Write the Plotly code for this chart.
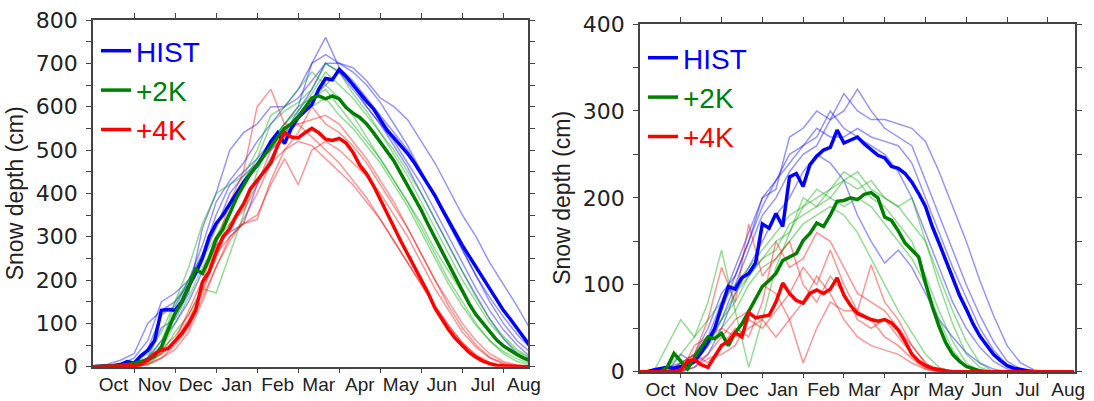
import plotly.graph_objects as go

# ---------------- data ----------------
MONTHS = ["Oct", "Nov", "Dec", "Jan", "Feb", "Mar", "Apr", "May", "Jun", "Jul", "Aug"]
MONTH_MID = [15, 45, 75, 105, 135, 165, 195, 225, 255, 285, 315]
MONTH_EDGE = [30, 60, 90, 120, 150, 180, 210, 240, 270, 300]

DAYS_MEAN = [0, 5, 10, 15, 20, 25, 30, 35, 40, 45, 50, 55, 60, 65, 70, 75, 80, 85, 90, 95,
             100, 105, 110, 115, 120, 125, 130, 135, 140, 145, 150, 155, 160, 165, 170, 175,
             180, 185, 190, 195, 200, 205, 210, 215, 220, 225, 230, 235, 240, 245, 250, 255,
             260, 265, 270, 275, 280, 285, 290, 295, 300, 305, 310, 315, 319]
DAYS_MEMBER = [0, 10, 20, 30, 40, 50, 60, 70, 80, 90, 100, 110, 120, 130, 140, 150, 160,
               170, 180, 190, 200, 210, 220, 230, 240, 250, 260, 270, 280, 290, 300, 310, 319]

# Left panel - ensemble means
L_HIST = [0, 0, 2, 3, 5, 12, 8, 25, 38, 60, 130, 132, 130, 150, 185, 215, 250, 300, 330, 350,
          375, 400, 425, 445, 465, 490, 520, 540, 515, 550, 575, 590, 605, 640, 665, 662,
          686, 670, 650, 630, 612, 595, 572, 546, 528, 510, 492, 470, 445, 420, 395, 365,
          335, 308, 280, 255, 228, 202, 178, 155, 130, 110, 88, 68, 50]
L_2K = [0, 0, 0, 2, 3, 5, 8, 12, 15, 25, 45, 85, 123, 150, 185, 225, 215, 250, 295, 318,
        355, 390, 418, 445, 465, 485, 508, 530, 550, 560, 577, 598, 620, 625, 618, 625,
        618, 598, 585, 575, 560, 540, 519, 497, 475, 446, 418, 388, 361, 328, 297, 265,
        234, 205, 175, 145, 120, 100, 80, 62, 48, 37, 28, 20, 15]
L_4K = [0, 0, 0, 0, 2, 3, 2, 5, 15, 30, 38, 42, 61, 77, 100, 130, 195, 220, 265, 300,
        318, 350, 375, 410, 430, 450, 470, 510, 540, 530, 528, 540, 550, 540, 525, 522,
        527, 516, 495, 465, 445, 418, 385, 355, 323, 290, 260, 231, 200, 170, 135, 110,
        85, 65, 48, 33, 22, 13, 7, 3, 2, 1, 0, 0, 0]

# Left panel - ensemble members
L_HIST_M1 = [0, 2, 5, 20, 60, 150, 170, 200, 260, 350, 420, 450, 480, 520, 560, 600, 700,
             720, 700, 690, 660, 620, 600, 570, 520, 470, 410, 350, 300, 240, 190, 140, 90]
L_HIST_M2 = [0, 0, 3, 10, 40, 120, 140, 200, 280, 380, 430, 470, 520, 560, 600, 640, 700,
             760, 690, 660, 620, 580, 540, 500, 450, 390, 330, 270, 210, 160, 115, 75, 45]
L_HIST_M3 = [0, 0, 2, 5, 20, 60, 100, 150, 220, 280, 310, 330, 420, 480, 540, 590, 640,
             700, 680, 640, 600, 560, 520, 470, 420, 360, 300, 240, 180, 130, 85, 50, 25]
L_HIST_M4 = [0, 5, 15, 30, 100, 130, 150, 190, 250, 320, 400, 440, 470, 500, 530, 580, 620,
             650, 680, 650, 600, 560, 510, 460, 400, 340, 280, 220, 165, 110, 65, 30, 12]
L_HIST_M5 = [0, 0, 5, 5, 20, 90, 110, 170, 320, 400, 500, 540, 560, 600, 600, 620, 660,
             700, 700, 680, 650, 610, 560, 510, 450, 390, 330, 270, 210, 150, 100, 60, 35]

L_2K_M1 = [0, 0, 2, 5, 20, 60, 130, 200, 260, 330, 380, 430, 480, 560, 590, 610, 640,
           700, 680, 630, 590, 540, 490, 440, 380, 320, 260, 200, 150, 100, 65, 35, 20]
L_2K_M2 = [0, 0, 3, 5, 15, 50, 150, 230, 330, 400, 420, 440, 500, 580, 600, 640, 680,
           650, 620, 580, 530, 480, 430, 380, 320, 260, 200, 150, 100, 60, 30, 12, 5]
L_2K_M3 = [0, 0, 0, 0, 5, 30, 80, 120, 180, 170, 260, 350, 450, 520, 560, 600, 620,
           640, 600, 560, 520, 480, 430, 380, 330, 270, 220, 170, 120, 80, 45, 25, 10]
L_2K_M4 = [0, 0, 5, 10, 30, 80, 150, 200, 250, 300, 360, 420, 470, 520, 560, 590, 630,
           680, 650, 620, 580, 540, 500, 450, 400, 340, 280, 220, 160, 110, 70, 40, 22]
L_2K_M5 = [0, 0, 0, 0, 10, 40, 100, 160, 230, 290, 330, 380, 430, 480, 540, 580, 600,
           620, 580, 550, 510, 470, 420, 370, 310, 250, 190, 140, 95, 60, 35, 18, 8]

L_4K_M1 = [0, 0, 0, 0, 15, 30, 60, 130, 200, 280, 380, 450, 600, 640, 560, 560, 570,
           580, 560, 520, 480, 430, 380, 320, 260, 200, 150, 100, 60, 30, 12, 4, 0]
L_4K_M2 = [0, 0, 0, 0, 5, 20, 40, 80, 150, 230, 300, 330, 350, 420, 480, 420, 500,
           520, 500, 470, 440, 400, 350, 300, 240, 180, 130, 80, 45, 20, 6, 0, 0]
L_4K_M3 = [0, 0, 0, 5, 20, 40, 70, 120, 180, 250, 330, 360, 420, 500, 540, 560, 530,
           500, 470, 430, 390, 340, 290, 240, 190, 140, 95, 55, 25, 8, 2, 0, 0]
L_4K_M4 = [0, 0, 0, 0, 10, 30, 60, 110, 170, 260, 300, 330, 340, 430, 500, 540, 600,
           560, 540, 510, 470, 420, 370, 320, 260, 200, 140, 90, 50, 22, 8, 2, 0]
L_4K_M5 = [0, 0, 0, 0, 5, 20, 50, 90, 160, 230, 290, 340, 400, 470, 500, 520, 510,
           480, 450, 420, 380, 340, 290, 240, 190, 140, 95, 55, 28, 10, 3, 0, 0]

# Right panel - ensemble means
R_HIST = [0, 0, 2, 4, 5, 4, 6, 8, 12, 22, 35, 50, 75, 98, 95, 108, 113, 125, 170, 165,
          182, 167, 224, 228, 213, 238, 248, 255, 258, 278, 263, 267, 270, 262, 255, 249,
          246, 236, 234, 228, 218, 205, 190, 167, 148, 128, 106, 88, 72, 55, 41, 30,
          20, 13, 7, 4, 2, 1, 0, 0, 0, 0, 0, 0, 0]
R_2K = [0, 0, 0, 0, 5, 21, 12, 3, 16, 28, 40, 38, 44, 30, 45, 55, 70, 85, 98, 105,
        113, 128, 132, 136, 151, 159, 171, 167, 180, 196, 197, 200, 198, 204, 206, 200,
        178, 174, 162, 148, 140, 132, 102, 75, 52, 33, 20, 12, 6, 3, 1, 0,
        0, 0, 0, 0, 0, 0, 0, 0, 0, 0, 0, 0, 0]
R_4K = [0, 0, 0, 0, 0, 0, 2, 12, 14, 8, 5, 18, 30, 35, 45, 40, 68, 62, 63, 65,
        80, 102, 90, 82, 79, 90, 94, 90, 95, 108, 88, 76, 67, 63, 60, 58,
        60, 56, 48, 35, 20, 12, 7, 4, 2, 1, 0, 0, 0, 0, 0, 0,
        0, 0, 0, 0, 0, 0, 0, 0, 0, 0, 0, 0, 0]

# Right panel - ensemble members
R_HIST_M1 = [0, 0, 5, 10, 20, 50, 90, 110, 150, 200, 210, 270, 280, 300, 290, 320, 300,
             290, 290, 285, 280, 265, 230, 190, 150, 105, 65, 30, 10, 2, 0, 0, 0]
R_HIST_M2 = [0, 0, 0, 20, 10, 30, 60, 100, 140, 180, 200, 230, 250, 260, 290, 300, 325,
             300, 280, 270, 260, 220, 180, 140, 100, 65, 35, 12, 3, 0, 0, 0, 0]
R_HIST_M3 = [0, 0, 0, 5, 15, 40, 80, 120, 160, 200, 220, 240, 260, 270, 300, 280, 270,
             260, 250, 230, 200, 160, 120, 80, 50, 28, 12, 3, 0, 0, 0, 0, 0]
R_HIST_M4 = [0, 0, 0, 0, 5, 20, 50, 90, 120, 150, 180, 200, 230, 250, 240, 220, 180,
             150, 125, 140, 120, 90, 60, 40, 22, 10, 3, 0, 0, 0, 0, 0, 0]
R_HIST_M5 = [0, 0, 0, 0, 10, 30, 70, 110, 150, 190, 220, 250, 260, 280, 270, 270, 280,
             270, 265, 260, 240, 200, 160, 120, 85, 50, 25, 8, 2, 0, 0, 0, 0]

R_2K_M1 = [0, 0, 30, 60, 40, 60, 80, 100, 120, 140, 160, 180, 190, 200, 210, 230, 220,
           200, 190, 170, 150, 110, 70, 35, 10, 0, 0, 0, 0, 0, 0, 0, 0]
R_2K_M2 = [0, 0, 5, 20, 40, 80, 140, 70, 5, 60, 120, 160, 190, 210, 200, 220, 210,
           220, 200, 190, 170, 150, 110, 70, 35, 10, 0, 0, 0, 0, 0, 0, 0]
R_2K_M3 = [0, 0, 0, 10, 20, 40, 60, 90, 110, 130, 140, 170, 180, 190, 200, 190, 200,
           190, 170, 150, 130, 100, 60, 25, 5, 0, 0, 0, 0, 0, 0, 0, 0]
R_2K_M4 = [0, 0, 0, 0, 10, 30, 50, 70, 100, 120, 130, 150, 170, 180, 190, 180, 160,
           130, 100, 70, 45, 20, 5, 0, 0, 0, 0, 0, 0, 0, 0, 0, 0]
R_2K_M5 = [0, 0, 0, 5, 15, 30, 60, 80, 110, 130, 150, 160, 200, 190, 210, 220, 230,
           210, 200, 190, 200, 150, 100, 55, 20, 5, 0, 0, 0, 0, 0, 0, 0]

R_4K_M1 = [0, 0, 0, 10, 20, 60, 120, 80, 170, 110, 130, 150, 100, 80, 110, 90, 60,
           50, 60, 40, 20, 5, 0, 0, 0, 0, 0, 0, 0, 0, 0, 0, 0]
R_4K_M2 = [0, 0, 0, 0, 10, 20, 40, 60, 70, 100, 90, 60, 10, 50, 80, 70, 70,
           123, 80, 60, 30, 10, 0, 0, 0, 0, 0, 0, 0, 0, 0, 0, 0]
R_4K_M3 = [0, 0, 0, 5, 20, 10, 30, 50, 40, 80, 150, 120, 130, 160, 150, 120, 90,
           80, 70, 50, 30, 10, 0, 0, 0, 0, 0, 0, 0, 0, 0, 0, 0]
R_4K_M4 = [0, 0, 0, 0, 5, 15, 20, 30, 60, 50, 70, 90, 120, 100, 140, 100, 70,
           60, 40, 30, 15, 3, 0, 0, 0, 0, 0, 0, 0, 0, 0, 0, 0]
R_4K_M5 = [0, 0, 0, 0, 30, 40, 50, 40, 50, 60, 40, 60, 80, 110, 90, 60, 40,
           30, 25, 20, 10, 3, 0, 0, 0, 0, 0, 0, 0, 0, 0, 0, 0]

SCENARIOS = ["HIST", "+2K", "+4K"]
BOLD_COLORS = ["#0000ff", "#008000", "#ff0000"]
THIN_COLORS = ["rgba(0,0,255,0.42)", "rgba(0,170,0,0.42)", "rgba(255,0,0,0.42)"]

LEFT_MEANS = [L_HIST, L_2K, L_4K]
LEFT_MEMBERS = [[L_HIST_M1, L_HIST_M2, L_HIST_M3, L_HIST_M4, L_HIST_M5],
                [L_2K_M1, L_2K_M2, L_2K_M3, L_2K_M4, L_2K_M5],
                [L_4K_M1, L_4K_M2, L_4K_M3, L_4K_M4, L_4K_M5]]
RIGHT_MEANS = [R_HIST, R_2K, R_4K]
RIGHT_MEMBERS = [[R_HIST_M1, R_HIST_M2, R_HIST_M3, R_HIST_M4, R_HIST_M5],
                 [R_2K_M1, R_2K_M2, R_2K_M3, R_2K_M4, R_2K_M5],
                 [R_4K_M1, R_4K_M2, R_4K_M3, R_4K_M4, R_4K_M5]]

# ---------------- figure ----------------
W, H = 1094, 401
FONT = "Liberation Sans, Arial, sans-serif"
NUMFONT = "DejaVu Sans, Liberation Sans, sans-serif"
AXCOL = "#444444"
TXT = "#222222"

fig = go.Figure()


def add_panel(means, members, xa, ya, legend):
    for k in range(3):
        for m in members[k]:
            fig.add_trace(go.Scatter(x=DAYS_MEMBER, y=m, mode="lines", xaxis=xa, yaxis=ya,
                                     line=dict(color=THIN_COLORS[k], width=1.5),
                                     showlegend=False, hoverinfo="skip"))
    for k in range(3):
        fig.add_trace(go.Scatter(
            x=DAYS_MEAN, y=means[k], mode="lines", xaxis=xa, yaxis=ya,
            line=dict(color=BOLD_COLORS[k], width=3.5),
            name="<span style='color:%s'>%s</span>" % (BOLD_COLORS[k], SCENARIOS[k]),
            legend=legend, showlegend=True))


add_panel(LEFT_MEANS, LEFT_MEMBERS, "x", "y", "legend")
add_panel(RIGHT_MEANS, RIGHT_MEMBERS, "x2", "y2", "legend2")


def xaxis_cfg(domain, rng):
    return dict(domain=domain, range=rng, tickmode="array", tickvals=MONTH_MID,
                ticktext=MONTHS, ticks="", showline=True, linecolor=AXCOL, linewidth=1.5,
                mirror="ticks", showgrid=False, zeroline=False, automargin=False,
                tickfont=dict(family=FONT, size=19, color=TXT),
                minor=dict(tickmode="array", tickvals=MONTH_EDGE, ticks="outside",
                           ticklen=5, tickcolor=AXCOL, tickwidth=1, showgrid=False))


def yaxis_cfg(domain, ymax, anchor):
    return dict(domain=domain, range=[0, ymax], anchor=anchor, dtick=100, tick0=0,
                ticks="outside", ticklen=5, tickcolor=AXCOL, tickwidth=1,
                showline=True, linecolor=AXCOL, linewidth=1.5, mirror="ticks",
                showgrid=False, zeroline=False, automargin=False,
                tickfont=dict(family=NUMFONT, size=22, color=TXT),
                ticklabelstandoff=4,
                title=dict(text="Snow depth (cm)", font=dict(family=FONT, size=23, color=TXT),
                           standoff=6),
                minor=dict(dtick=50, ticks="outside", ticklen=5, tickcolor=AXCOL,
                           tickwidth=1, showgrid=False))


fig.update_layout(
    width=W, height=H, margin=dict(l=0, r=0, t=0, b=0),
    paper_bgcolor="white", plot_bgcolor="white", template="none",
    xaxis=xaxis_cfg([93 / W, 528 / W], [0, 318]) | dict(anchor="y"),
    yaxis=yaxis_cfg([1 - 366.7 / H, 1 - 20 / H], 800, "x"),
    xaxis2=xaxis_cfg([640 / W, 1075 / W], [0, 320]) | dict(anchor="y2"),
    yaxis2=yaxis_cfg([1 - 371.7 / H, 1 - 24 / H], 400, "x2"),
    legend=dict(x=96 / W, y=1 - 26 / H, xanchor="left", yanchor="top",
                bgcolor="rgba(0,0,0,0)", font=dict(family=FONT, size=28),
                tracegroupgap=0),
    legend2=dict(x=643 / W, y=1 - 33 / H, xanchor="left", yanchor="top",
                 bgcolor="rgba(0,0,0,0)", font=dict(family=FONT, size=28),
                 tracegroupgap=0),
    showlegend=True,
)

fig.write_html("out.html")
